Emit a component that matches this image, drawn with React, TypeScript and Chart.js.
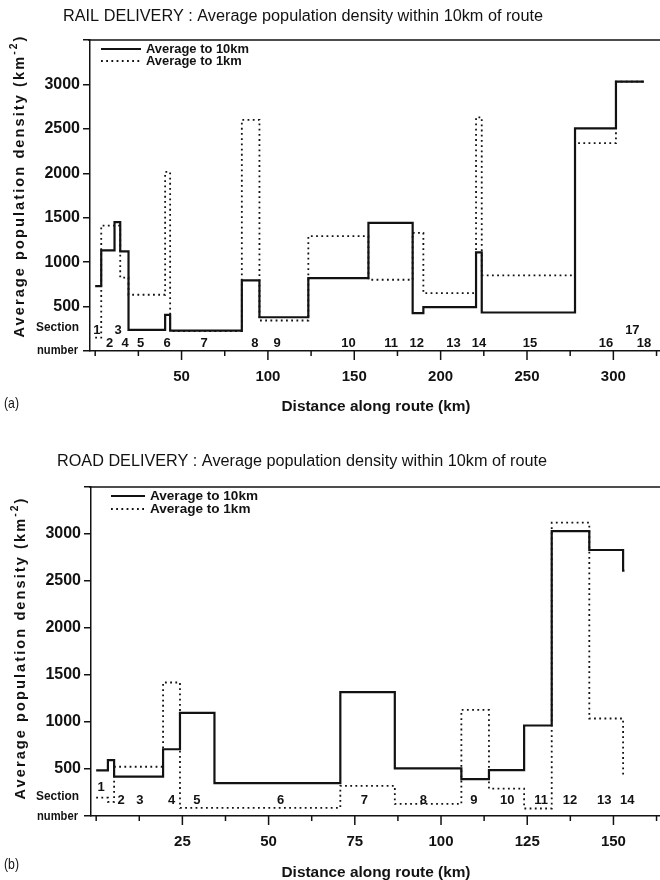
import { useEffect, useRef } from 'react';
import { Chart, registerables } from 'chart.js';

Chart.register(...registerables);

const INK = '#121212';
const FONT = '"Liberation Sans", Arial, Helvetica, sans-serif';

// ---- Rail delivery (panel a): sections along the route ----
const railSectionStartKm = [0, 3.5, 11.2, 14.5, 19.3, 40.5, 43.4, 84.9, 95.1, 123.4, 158.2, 183.8, 190.0, 220.5, 223.8, 277.8, 301.5, 313.0];
const railRouteEndKm = 317.7;
const railDensity10km = [730, 1133, 1450, 1122, 237, 407, 230, 795, 380, 821, 1443, 426, 494, 1111, 433, 2505, 3032, 3032];
const railDensity1km = [150, 1412, 1412, 825, 633, 2015, 225, 2602, 343, 1292, 802, 1330, 652, 2630, 851, 2339, 3032, 3032];
const railSectionNames = ['1', '2', '3', '4', '5', '6', '7', '8', '9', '10', '11', '12', '13', '14', '15', '16', '17', '18'];
const railSectionLabelKm = [1.0, 8.4, 13.3, 17.4, 26.3, 41.7, 63.1, 92.4, 105.3, 146.7, 171.3, 186.2, 207.5, 222.2, 251.7, 295.7, 311.0, 317.7];
const railSectionRaised = [true, false, true, false, false, false, false, false, false, false, false, false, false, false, false, false, true, false];
const railDistanceLabels = [50, 100, 150, 200, 250, 300];

// ---- Road delivery (panel b) ----
const roadSectionStartKm = [0, 3.4, 5.2, 19.4, 24.3, 34.3, 70.8, 86.6, 105.9, 113.9, 124.1, 132.1, 143.0, 152.8];
const roadRouteEndKm = 153.2;
const roadDensity10km = [485, 595, 419, 710, 1097, 349, 1318, 507, 392, 489, 963, 3030, 2830, 2610];
const roadDensity1km = [195, 150, 524, 1420, 86, 86, 321, 128, 1128, 292, 80, 3120, 1037, 440];
const roadSectionNames = ['1', '2', '3', '4', '5', '6', '7', '8', '9', '10', '11', '12', '13', '14'];
const roadSectionLabelKm = [1.4, 7.2, 12.7, 21.9, 29.2, 53.5, 77.8, 94.9, 109.5, 119.2, 129.0, 137.4, 147.3, 154.0];
const roadSectionRaised = [true, false, false, false, false, false, false, false, false, false, false, false, false, false];
const roadDistanceLabels = [25, 50, 75, 100, 125, 150];

const densityTicks = [0, 500, 1000, 1500, 2000, 2500, 3000, 3500];
const densityTickLabels = [500, 1000, 1500, 2000, 2500, 3000];

const seriesNames = ['Average to 10km', 'Average to 1km'];

type Pt = { x: number; y: number };

// step function: each section value holds from its start to the next start
function stepPoints(starts: number[], end: number, values: number[]): Pt[] {
  const pts = starts.map((x, i) => ({ x, y: values[i] }));
  pts.push({ x: end, y: values[values.length - 1] });
  return pts;
}

function fitText(ctx: CanvasRenderingContext2D, text: string, x: number, y: number, width: number, align: CanvasTextAlign = 'left') {
  const w = ctx.measureText(text).width || 1;
  ctx.save();
  ctx.translate(x, y);
  ctx.scale(width / w, 1);
  ctx.textAlign = align;
  ctx.fillText(text, 0, 0);
  ctx.restore();
}

interface PanelSpec {
  title: string;
  tag: string;
  starts: number[];
  end: number;
  d10: number[];
  d1: number[];
  names: string[];
  labelKm: number[];
  raised: boolean[];
  xMin: number;
  xMax: number;
  tickStep: number;
  xLabels: number[];
  padTop: number;
  xAxisHeight: number;
  yAxisWidth: number;
  titleY: number;
  titleCx: number;
  titleW: number;
  legendLine: [number, number];
  legendTextW: number;
  legendRows: [number, number];
  yTitleX: number;
  yTitleCy: number;
  rowRaised: number;
  rowLower: number;
  captionSection: number;
  captionNumber: number;
  xTitleOffset: number;
  tagOffset: number;
}

const panelDecor = {
  id: 'panelDecor',
  afterDraw(chart: any, _args: any, o: any) {
    const p: PanelSpec = o.spec;
    const { ctx, chartArea: a, scales } = chart;
    const sx = scales.x;
    ctx.save();
    ctx.fillStyle = INK;
    ctx.strokeStyle = INK;
    ctx.lineWidth = 1.5;

    // frame top
    ctx.beginPath();
    ctx.moveTo(a.left - 2, a.top);
    ctx.lineTo(a.right, a.top);
    ctx.stroke();

    // distance tick marks
    for (let v = 0; v <= sx.max; v += p.tickStep) {
      const px = sx.getPixelForValue(v);
      const major = p.xLabels.includes(v);
      ctx.beginPath();
      ctx.moveTo(px, a.bottom);
      ctx.lineTo(px, a.bottom + (major ? 9 : 5));
      ctx.stroke();
    }

    ctx.textBaseline = 'middle';

    // panel title
    ctx.font = `16px ${FONT}`;
    fitText(ctx, p.title, p.titleCx, p.titleY, p.titleW, 'center');

    // legend
    chart.data.datasets.forEach((ds: any, i: number) => {
      const y = p.legendRows[i];
      ctx.save();
      ctx.lineWidth = ds.borderWidth;
      ctx.setLineDash(ds.borderDash || []);
      ctx.beginPath();
      ctx.moveTo(p.legendLine[0], y);
      ctx.lineTo(p.legendLine[1], y);
      ctx.stroke();
      ctx.restore();
      ctx.font = `bold 13px ${FONT}`;
      const w = p.legendTextW * ctx.measureText(ds.label).width / ctx.measureText(seriesNames[0]).width;
      fitText(ctx, ds.label, p.legendLine[1] + 5, y, w, 'left');
    });

    // section numbers
    ctx.font = `bold 13px ${FONT}`;
    ctx.textAlign = 'center';
    p.names.forEach((name, i) => {
      const px = sx.getPixelForValue(p.labelKm[i]);
      const py = a.bottom - (p.raised[i] ? p.rowRaised : p.rowLower);
      ctx.fillText(name, px, py);
    });

    // "Section number" caption
    ctx.font = `bold 12px ${FONT}`;
    fitText(ctx, 'Section', 79, a.bottom - p.captionSection, 43, 'right');
    fitText(ctx, 'number', 78, a.bottom + p.captionNumber, 41, 'right');

    // y-axis title, rotated, with superscript unit
    ctx.save();
    ctx.translate(p.yTitleX, p.yTitleCy);
    ctx.rotate(-Math.PI / 2);
    const main = 'Average population density (km';
    ctx.font = `bold 14px ${FONT}`;
    (ctx as any).letterSpacing = '2px';
    const wMain = ctx.measureText(main).width;
    const wClose = ctx.measureText(')').width;
    ctx.font = `bold 10px ${FONT}`;
    const wSup = ctx.measureText('-2').width;
    const total = wMain + wSup + wClose;
    ctx.scale(303 / total, 1);
    let cx = -total / 2;
    ctx.textAlign = 'left';
    ctx.font = `bold 14px ${FONT}`;
    ctx.fillText(main, cx, 0);
    cx += wMain;
    ctx.font = `bold 10px ${FONT}`;
    ctx.fillText('-2', cx, -6);
    cx += wSup;
    ctx.font = `bold 14px ${FONT}`;
    ctx.fillText(')', cx, 0);
    ctx.restore();

    // x-axis title
    ctx.font = `bold 14px ${FONT}`;
    fitText(ctx, 'Distance along route (km)', 376, a.bottom + p.xTitleOffset, 189, 'center');

    // panel tag
    ctx.font = `15px ${FONT}`;
    fitText(ctx, p.tag, 4, a.bottom + p.tagOffset, 15, 'left');

    ctx.restore();
  },
};

function makeConfig(p: PanelSpec): any {
  return {
    type: 'line',
    data: {
      datasets: [
        {
          label: seriesNames[0],
          data: stepPoints(p.starts, p.end, p.d10),
          stepped: 'before',
          borderColor: INK,
          borderWidth: 2.2,
          pointRadius: 0,
          fill: false,
          borderCapStyle: 'butt',
          borderJoinStyle: 'miter',
        },
        {
          label: seriesNames[1],
          data: stepPoints(p.starts, p.end, p.d1),
          stepped: 'before',
          borderColor: INK,
          borderWidth: 1.8,
          borderDash: [1.8, 3.4],
          pointRadius: 0,
          fill: false,
          borderCapStyle: 'butt',
        },
      ],
    },
    options: {
      animation: false,
      responsive: false,
      devicePixelRatio: 1,
      layout: { padding: { left: 0, top: p.padTop, right: 0, bottom: 0 } },
      plugins: {
        legend: { display: false },
        tooltip: { enabled: false },
        title: { display: false },
        panelDecor: { spec: p },
      },
      scales: {
        x: {
          type: 'linear',
          min: p.xMin,
          max: p.xMax,
          afterFit: (s: any) => { s.height = p.xAxisHeight; },
          afterBuildTicks: (s: any) => { s.ticks = p.xLabels.map((value) => ({ value })); },
          grid: { display: false, drawTicks: false },
          border: { display: true, color: INK, width: 1.5 },
          ticks: {
            autoSkip: false,
            maxRotation: 0,
            padding: 17,
            color: INK,
            font: { family: FONT, size: 15, weight: 'bold' },
          },
        },
        y: {
          type: 'linear',
          min: 0,
          max: 3500,
          afterFit: (s: any) => { s.width = p.yAxisWidth; },
          afterBuildTicks: (s: any) => { s.ticks = densityTicks.map((value) => ({ value })); },
          grid: {
            display: true,
            drawOnChartArea: false,
            drawTicks: true,
            tickLength: 7,
            color: INK,
            lineWidth: 1.5,
          },
          border: { display: true, color: INK, width: 1.5 },
          ticks: {
            autoSkip: false,
            padding: 3,
            color: INK,
            font: { family: FONT, size: 16, weight: 'bold' },
            callback: (v: number) => (densityTickLabels.includes(v) ? String(v) : ''),
          },
        },
      },
    },
    plugins: [panelDecor],
  };
}

const railPanel: PanelSpec = {
  title: 'RAIL DELIVERY : Average population density within 10km of route',
  tag: '(a)',
  starts: railSectionStartKm,
  end: railRouteEndKm,
  d10: railDensity10km,
  d1: railDensity1km,
  names: railSectionNames,
  labelKm: railSectionLabelKm,
  raised: railSectionRaised,
  xMin: -3,
  xMax: 327,
  tickStep: 25,
  xLabels: railDistanceLabels,
  padTop: 40,
  xAxisHeight: 89,
  yAxisWidth: 90,
  titleY: 17,
  titleCx: 303,
  titleW: 480,
  legendLine: [101, 141],
  legendTextW: 103,
  legendRows: [49, 61],
  yTitleX: 20,
  yTitleCy: 186,
  rowRaised: 21,
  rowLower: 8,
  captionSection: 23,
  captionNumber: 0,
  xTitleOffset: 56,
  tagOffset: 53,
};

const roadPanel: PanelSpec = {
  title: 'ROAD DELIVERY : Average population density within 10km of route',
  tag: '(b)',
  starts: roadSectionStartKm,
  end: roadRouteEndKm,
  d10: roadDensity10km,
  d1: roadDensity1km,
  names: roadSectionNames,
  labelKm: roadSectionLabelKm,
  raised: roadSectionRaised,
  xMin: -1.5,
  xMax: 163.5,
  tickStep: 12.5,
  xLabels: roadDistanceLabels,
  padTop: 47,
  xAxisHeight: 64,
  yAxisWidth: 91,
  titleY: 22,
  titleCx: 302,
  titleW: 490,
  legendLine: [111, 145],
  legendTextW: 108,
  legendRows: [56, 69],
  yTitleX: 21,
  yTitleCy: 208,
  rowRaised: 29,
  rowLower: 16,
  captionSection: 19,
  captionNumber: 1,
  xTitleOffset: 57,
  tagOffset: 49,
};

function Panel({ spec, top }: { spec: PanelSpec; top: number }) {
  const ref = useRef<HTMLCanvasElement | null>(null);
  useEffect(() => {
    if (!ref.current) return;
    const chart = new Chart(ref.current, makeConfig(spec));
    return () => chart.destroy();
  }, [spec]);
  return (
    <canvas
      ref={ref}
      width={660}
      height={440}
      style={{ position: 'absolute', left: 0, top, width: 660, height: 440, display: 'block' }}
    />
  );
}

export default function App() {
  return (
    <div style={{ position: 'absolute', left: 0, top: 0, width: 660, height: 880, background: '#fff' }}>
      <Panel spec={railPanel} top={0} />
      <Panel spec={roadPanel} top={440} />
    </div>
  );
}
